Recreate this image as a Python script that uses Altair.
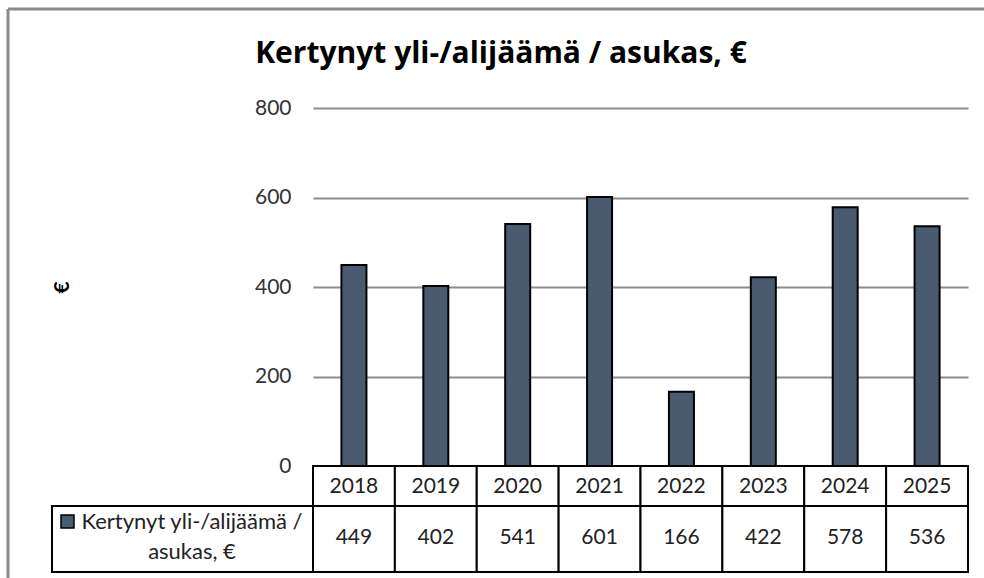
import altair as alt
import pandas as pd

years = ["2018", "2019", "2020", "2021", "2022", "2023", "2024", "2025"]
values = [449, 402, 541, 601, 166, 422, 578, 536]
series_name = "Kertynyt yli-/alijäämä /\nasukas, €"
title_text = "Kertynyt yli-/alijäämä  / asukas, €"
y_ticks = [0, 200, 400, 600, 800]

BAR = "#4a5a6f"
FONT = "Lato"
W, H = 655, 358

df = pd.DataFrame({"year": years, "value": values})
leg = pd.DataFrame({"label": [series_name]})
ttl = pd.DataFrame({"title": [title_text]})

x_enc = alt.X("year:N", sort=years, axis=None,
              scale=alt.Scale(paddingInner=0, paddingOuter=0))

bars = alt.Chart(df).mark_bar(size=25, color=BAR, stroke="black", strokeWidth=2).encode(
    x=x_enc,
    y=alt.Y("value:Q", scale=alt.Scale(domain=[0, 800], nice=False),
            axis=alt.Axis(values=y_ticks, grid=True, gridColor="#8c8c8c", gridWidth=2,
                          domain=False, ticks=False, labelPadding=22, labelFontSize=21,
                          labelColor="#333333", labelFont=FONT,
                          title="€", titleFont=FONT, titleFontSize=21, titleFontWeight="bold",
                          titleX=-251, titleY=H / 2, titleAngle=-90, titleAlign="center",
                          titleBaseline="middle", titleColor="black")),
)

year_cells = alt.Chart(df).mark_rect(fill="white", stroke="black", strokeWidth=2).encode(
    x=x_enc, y=alt.value(H), y2=alt.value(H + 40))
value_cells = alt.Chart(df).mark_rect(fill="white", stroke="black", strokeWidth=2).encode(
    x=x_enc, y=alt.value(H + 40), y2=alt.value(H + 106))
year_text = alt.Chart(df).mark_text(font=FONT, fontSize=21, color="#222222", baseline="middle").encode(
    x=x_enc, y=alt.value(H + 21), text="year:N")
value_text = alt.Chart(df).mark_text(font=FONT, fontSize=21, color="#222222", baseline="middle").encode(
    x=x_enc, y=alt.value(H + 72), text="value:Q")

leg_cell = alt.Chart(leg).mark_rect(fill="white", stroke="black", strokeWidth=2).encode(
    x=alt.value(-261), x2=alt.value(0), y=alt.value(H + 40), y2=alt.value(H + 106))
leg_swatch = alt.Chart(leg).mark_rect(fill=BAR, stroke="black", strokeWidth=1.5).encode(
    x=alt.value(-252), x2=alt.value(-239), y=alt.value(H + 49), y2=alt.value(H + 62))
leg_text = alt.Chart(leg).mark_text(font=FONT, fontSize=22, color="#222222", baseline="middle",
                                    align="center", lineBreak="\n", lineHeight=30).encode(
    x=alt.value(-121), y=alt.value(H + 56), text="label:N")

title_mark = alt.Chart(ttl).mark_text(font="Open Sans", fontSize=30, fontWeight="bold", color="black",
                                      baseline="middle", align="center").encode(
    x=alt.value(188), y=alt.value(-54), text="title:N")

frame_v = alt.Chart(leg).mark_rule(color="#8a8a8a", strokeWidth=3).encode(
    x=alt.value(-305), y=alt.value(-99), y2=alt.value(H + 120))
frame_h = alt.Chart(leg).mark_rule(color="#8a8a8a", strokeWidth=3).encode(
    y=alt.value(-99), x=alt.value(-305), x2=alt.value(W + 20))

chart = alt.layer(
    frame_v, frame_h, bars, year_cells, value_cells, year_text, value_text,
    leg_cell, leg_swatch, leg_text, title_mark,
).properties(
    width=W, height=H,
    autosize=alt.AutoSizeParams(type="none"),
    padding={"left": 313, "top": 108, "right": 16, "bottom": 112},
).configure_view(strokeWidth=0)

chart.save("out.html", embed_options={"renderer": "svg", "actions": False})
